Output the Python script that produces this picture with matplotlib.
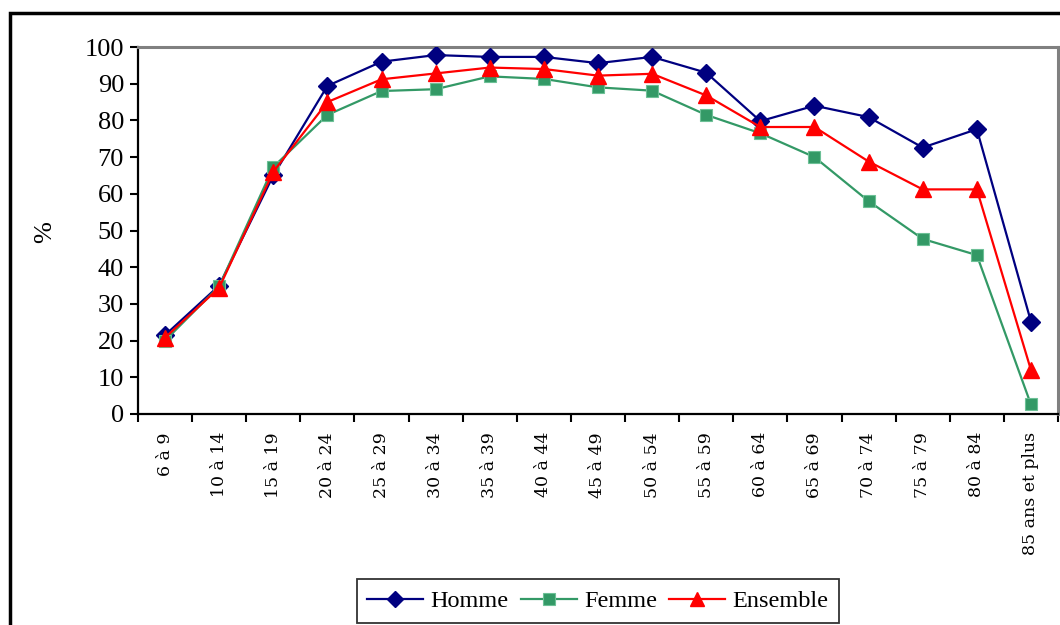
import matplotlib
matplotlib.use("Agg")
import matplotlib.pyplot as plt
from matplotlib.patches import Rectangle
from matplotlib.lines import Line2D

categories = ["6 à 9", "10 à 14", "15 à 19", "20 à 24", "25 à 29", "30 à 34",
              "35 à 39", "40 à 44", "45 à 49", "50 à 54", "55 à 59", "60 à 64",
              "65 à 69", "70 à 74", "75 à 79", "80 à 84", "85 ans et plus"]
homme = [21.5, 35.0, 65.0, 89.4, 96.0, 97.8, 97.3, 97.3, 95.6, 97.3, 93.0,
         79.8, 84.0, 80.9, 72.6, 77.6, 25.2]
femme = [20.0, 34.8, 67.3, 81.5, 88.0, 88.5, 92.0, 91.3, 89.0, 88.1, 81.5,
         76.5, 70.0, 58.0, 47.7, 43.3, 2.6]
ensemble = [20.8, 34.4, 66.0, 85.0, 91.2, 92.8, 94.4, 94.0, 92.2, 92.7, 86.8,
            78.2, 78.2, 68.8, 61.2, 61.2, 12.0]
y_ticks = [0, 10, 20, 30, 40, 50, 60, 70, 80, 90, 100]

NAVY = "#000080"
GREEN = "#339966"
RED = "#FF0000"

plt.rcParams["font.family"] = ["Liberation Serif", "DejaVu Serif"]

fig = plt.figure(figsize=(10.6, 6.25), dpi=100)
ax = fig.add_axes([138 / 1060, 1 - 414 / 625, (1058 - 138) / 1060, (414 - 47) / 625])

x = list(range(len(categories)))
ax.plot(x, homme, color=NAVY, lw=1.6, marker="D", ms=9,
        mfc=NAVY, mec=NAVY, label="Homme", zorder=3)
ax.plot(x, femme, color=GREEN, lw=1.6, marker="s", ms=8.5,
        mfc=GREEN, mec="#6cc096", mew=0.8, label="Femme", zorder=4)
ax.plot(x, ensemble, color=RED, lw=1.6, marker="^", ms=11.5,
        mfc=RED, mec=RED, label="Ensemble", zorder=5)

ax.set_xlim(-0.5, len(categories) - 0.5)
ax.set_ylim(0, 100)
ax.set_yticks(y_ticks)
ax.set_yticklabels([str(v) for v in y_ticks])
ax.tick_params(axis="y", length=6, width=1.5, direction="out", pad=4,
               labelsize=19)

# category boundaries carry the tick marks, labels sit at the centres
ax.set_xticks([i - 0.5 for i in range(len(categories) + 1)])
ax.set_xticklabels([])
ax.set_xticks(x, minor=True)
ax.set_xticklabels(categories, minor=True, rotation=90,
                   va="top", ha="center")
for lab in ax.get_xticklabels(minor=True):
    lab.set_fontfamily("DejaVu Serif")
    lab.set_fontsize(12.5)
ax.tick_params(axis="x", which="minor", length=0, pad=13)
ax.tick_params(axis="x", which="major", length=6, width=1.5, direction="out")

for side in ("left", "bottom"):
    ax.spines[side].set_color("black")
    ax.spines[side].set_linewidth(1.6)
for side in ("top", "right"):
    ax.spines[side].set_color("#808080")
    ax.spines[side].set_linewidth(2.2)

fig.text(45 / 1060, 1 - 232 / 625, "%", rotation=90, fontsize=19,
         ha="center", va="center")

handles = [
    Line2D([], [], color=NAVY, lw=1.6, marker="D", ms=8, mfc=NAVY, mec=NAVY),
    Line2D([], [], color=GREEN, lw=1.6, marker="s", ms=8, mfc=GREEN, mec="#6cc096", mew=0.8),
    Line2D([], [], color=RED, lw=1.6, marker="^", ms=9.5, mfc=RED, mec=RED),
]
leg = fig.legend(handles, ["Homme", "Femme", "Ensemble"], ncol=3,
                 loc="center", bbox_to_anchor=(598 / 1060, 1 - 601 / 625),
                 prop={"size": 17.5}, frameon=True,
                 fancybox=False, handlelength=2.3, handletextpad=0.3,
                 columnspacing=0.5, borderpad=0.45, borderaxespad=0)
leg.get_frame().set_edgecolor("black")
leg.get_frame().set_linewidth(1.3)

# outer chart frame
top = 1 - 13.5 / 625
fig.patches.append(Rectangle((10 / 1060, -0.2), 1.2, top + 0.2,
                             transform=fig.transFigure, fill=False,
                             edgecolor="black", lw=2.5, clip_on=False))

fig.savefig("out.png", dpi=100)
